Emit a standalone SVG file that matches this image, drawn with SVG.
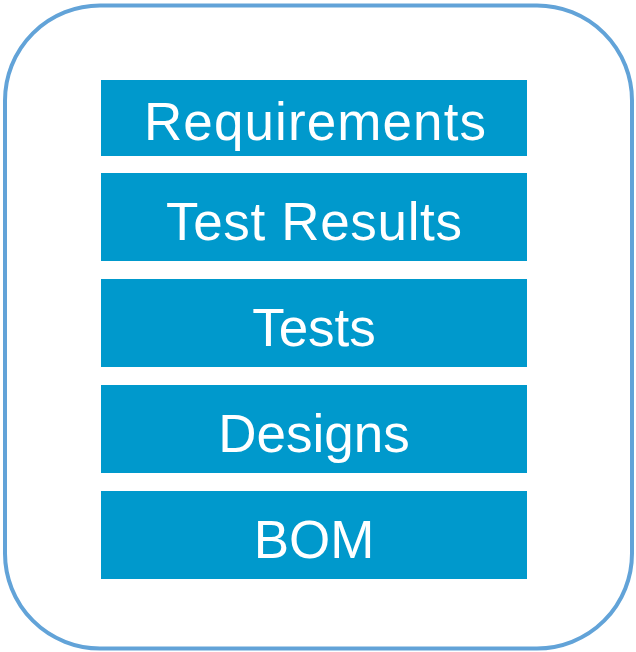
<svg xmlns="http://www.w3.org/2000/svg" width="636" height="652" viewBox="0 0 636 652">
<style>
.box{fill:#0099cc}
.lbl{fill:#ffffff;font-family:"Liberation Sans",Arial,sans-serif;font-size:53px;text-anchor:middle}
</style>
<rect x="0" y="0" width="636" height="652" fill="#ffffff"/>
<g id="frame"><rect x="5" y="5.5" width="627" height="643" rx="95" ry="95" fill="none" stroke="#62a3d8" stroke-width="4"/></g>
<g id="requirements"><rect class="box" x="101" y="80" width="426" height="76"/><text class="lbl" x="315" y="140" textLength="342" lengthAdjust="spacing">Requirements</text></g>
<g id="test-results"><rect class="box" x="101" y="173" width="426" height="88"/><text class="lbl" x="314" y="240" textLength="296" lengthAdjust="spacing">Test Results</text></g>
<g id="tests"><rect class="box" x="101" y="279" width="426" height="88"/><text class="lbl" x="314" y="346">Tests</text></g>
<g id="designs"><rect class="box" x="101" y="385" width="426" height="88"/><text class="lbl" x="314" y="452">Designs</text></g>
<g id="bom"><rect class="box" x="101" y="491" width="426" height="88"/><text class="lbl" x="314" y="558">BOM</text></g>
<g id="connectors"/>
</svg>
